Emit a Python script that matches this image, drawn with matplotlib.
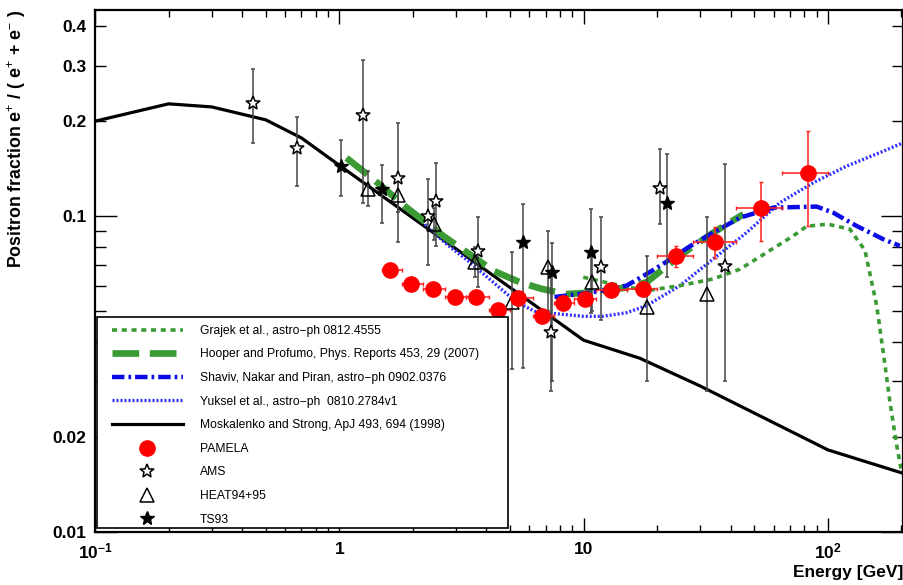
import matplotlib
matplotlib.use('Agg')
import matplotlib.pyplot as plt
import numpy as np
from matplotlib.lines import Line2D
from matplotlib.patches import Rectangle
from matplotlib.ticker import FixedLocator, FixedFormatter

plt.rcParams['font.family'] = ['Liberation Sans', 'DejaVu Sans']
plt.rcParams['mathtext.fontset'] = 'custom'
plt.rcParams['mathtext.rm'] = 'Liberation Sans'
plt.rcParams['mathtext.bf'] = 'Liberation Sans:bold'

# ---------------- model curves ----------------
mosk_x = [0.1, 0.2, 0.3, 0.5, 0.7, 1.0, 10.0, 17.0, 30.0, 50.0, 100.0, 200.0]
mosk_y = [0.200, 0.227, 0.222, 0.202, 0.177, 0.145, 0.0405, 0.0355, 0.029, 0.0238, 0.0182, 0.0154]

grajek_x = [9.97, 13.2, 18.1, 24.8, 33.9, 43.7, 56.2, 72.2, 81.9, 100.0, 123.0, 141.8, 158.4, 168.5, 179.5, 191.2, 199.0]
grajek_y = [0.0641, 0.0610, 0.0581, 0.0603, 0.0633, 0.0680, 0.0768, 0.0867, 0.0930, 0.0944, 0.0910, 0.0780, 0.0521, 0.0371, 0.0258, 0.01885, 0.0159]

hooper_x = [1.07, 1.378, 1.887, 2.66, 4.27, 5.49, 6.72, 8.5, 11.0, 15.0, 18.1, 22.0, 27.0, 34.0, 45.1]
hooper_y = [0.153, 0.131, 0.1065, 0.0867, 0.0672, 0.0618, 0.0589, 0.0567, 0.0574, 0.0595, 0.0618, 0.0697, 0.0787, 0.0888, 0.1015]

shaviv_x = [7.6, 9.6, 12.0, 15.0, 18.1, 22.0, 27.0, 34.0, 43.7, 59.8, 90.0, 105.0, 131.0, 168.5, 197.0]
shaviv_y = [0.0555, 0.0567, 0.0581, 0.0603, 0.0656, 0.0720, 0.0800, 0.0888, 0.0990, 0.1065, 0.1073, 0.1027, 0.0932, 0.0846, 0.0806]

yuksel_x = [1.95, 2.75, 3.43, 5.32, 6.42, 8.0, 10.0, 12.0, 15.0, 18.1, 24.8, 33.9, 46.5, 63.7, 87.1, 119.0, 163.0, 200.0]
yuksel_y = [0.104, 0.0816, 0.0714, 0.0534, 0.0497, 0.0490, 0.0482, 0.0482, 0.0495, 0.0521, 0.0603, 0.0732, 0.0888, 0.1105, 0.1277, 0.144, 0.159, 0.170]

# ---------------- data ----------------
pam_x = [1.62, 1.97, 2.41, 2.98, 3.63, 4.48, 5.40, 6.78, 8.26, 10.1, 13.0, 17.5, 23.9, 34.5, 53.2, 82.7]
pam_y = [0.0676, 0.0610, 0.0589, 0.0554, 0.0554, 0.0505, 0.0550, 0.0483, 0.0530, 0.0547, 0.0586, 0.0589, 0.0746, 0.0830, 0.1065, 0.1373]
pam_xlo = [1.5, 1.8, 2.2, 2.7, 3.3, 4.1, 5.0, 6.2, 7.6, 9.1, 11.2, 15.0, 20.0, 28.0, 42.0, 65.0]
pam_xhi = [1.8, 2.2, 2.7, 3.3, 4.1, 5.0, 6.2, 7.6, 9.1, 11.2, 15.0, 20.0, 28.0, 42.0, 65.0, 100.0]
pam_ylo = [0.0658, 0.0594, 0.0573, 0.0538, 0.0536, 0.0487, 0.0530, 0.0463, 0.0508, 0.0522, 0.0558, 0.0557, 0.0689, 0.0736, 0.0836, 0.0932]
pam_yhi = [0.0694, 0.0626, 0.0605, 0.0570, 0.0572, 0.0523, 0.0570, 0.0503, 0.0552, 0.0572, 0.0614, 0.0621, 0.0806, 0.0925, 0.1283, 0.186]

ams_x = [0.445, 0.669, 1.247, 1.744, 2.314, 2.488, 3.71, 7.36, 11.75, 20.5, 37.9]
ams_y = [0.229, 0.1647, 0.2098, 0.1324, 0.100, 0.1118, 0.0777, 0.043, 0.0692, 0.123, 0.0697]
ams_lo = [0.171, 0.125, 0.1105, 0.0826, 0.070, 0.0806, 0.0596, 0.028, 0.047, 0.0944, 0.030]
ams_hi = [0.292, 0.2064, 0.313, 0.198, 0.131, 0.147, 0.0998, 0.066, 0.0998, 0.163, 0.146]

heat_x = [1.31, 1.74, 2.44, 3.59, 5.08, 7.13, 10.87, 18.2, 31.9]
heat_y = [0.122, 0.117, 0.0944, 0.0714, 0.0534, 0.0689, 0.0618, 0.0515, 0.0567]
heat_lo = [0.108, 0.103, 0.084, 0.064, 0.0329, 0.050, 0.050, 0.030, 0.028]
heat_hi = [0.139, 0.133, 0.106, 0.080, 0.077, 0.090, 0.075, 0.075, 0.0998]

ts_x = [1.02, 1.50, 5.66, 7.40, 10.7, 21.9]
ts_y = [0.144, 0.122, 0.0826, 0.0665, 0.0772, 0.1105]
ts_lo = [0.116, 0.0955, 0.033, 0.030, 0.0495, 0.064]
ts_hi = [0.175, 0.145, 0.109, 0.082, 0.1057, 0.157]

green = '#3a9a34'
blue = '#0a0ae6'
blue2 = '#3030ff'

fig = plt.figure(figsize=(9.04, 5.85), dpi=100)
ax = fig.add_axes([0.1051, 0.0906, 0.8938, 0.8923])
ax.set_xscale('log')
ax.set_yscale('log')

ls_grajek = (0, (1.4, 1.3))
ls_hooper = (0, (4.0, 1.6))
ls_shaviv = (0, (2.8, 0.9, 0.6, 0.9))
ls_yuksel = (0, (0.6, 0.6))

ax.plot(mosk_x, mosk_y, color='black', lw=2.3, zorder=2)
ax.plot(yuksel_x, yuksel_y, color=blue2, lw=2.4, ls=ls_yuksel, zorder=2)
ax.plot(grajek_x, grajek_y, color=green, lw=2.6, ls=ls_grajek, zorder=2)
ax.plot(hooper_x, hooper_y, color=green, lw=4.8, ls=ls_hooper, zorder=2)
ax.plot(shaviv_x, shaviv_y, color=blue, lw=3.2, ls=ls_shaviv, zorder=2)

def bars(x, y, lo, hi, color, lw=1.1):
    y = np.asarray(y); lo = np.asarray(lo); hi = np.asarray(hi)
    ax.errorbar(x, y, yerr=[y - lo, hi - y], fmt='none', ecolor=color,
                elinewidth=lw, capsize=1.5, capthick=lw, zorder=3)

bars(ams_x, ams_y, ams_lo, ams_hi, '#444444')
bars(heat_x, heat_y, heat_lo, heat_hi, '#444444')
bars(ts_x, ts_y, ts_lo, ts_hi, '#444444')

pam_x_a = np.asarray(pam_x)
ax.errorbar(pam_x, pam_y,
            xerr=[pam_x_a - np.asarray(pam_xlo), np.asarray(pam_xhi) - pam_x_a],
            yerr=[np.asarray(pam_y) - np.asarray(pam_ylo), np.asarray(pam_yhi) - np.asarray(pam_y)],
            fmt='none', ecolor='#ff2020', elinewidth=1.1, capsize=1.5, zorder=4)

ax.plot(ams_x, ams_y, ls='none', marker='*', ms=10, mfc='white', mec='black', mew=1.1, zorder=5)
ax.plot(heat_x, heat_y, ls='none', marker='^', ms=10, mfc='none', mec='black', mew=1.1, zorder=5)
ax.plot(ts_x, ts_y, ls='none', marker='*', ms=10, mfc='black', mec='black', zorder=5)
ax.plot(pam_x, pam_y, ls='none', marker='o', ms=11, mfc='#ff0000', mec='#ff0000', zorder=6)

ax.set_xlim(0.1, 203)
ax.set_ylim(0.01, 0.45)

# ticks (ROOT style, inward on all sides)
ax.xaxis.set_major_locator(FixedLocator([0.1, 1, 10, 100]))
ax.xaxis.set_major_formatter(FixedFormatter([r'$\mathbf{10^{-1}}$', '1', '10', r'$\mathbf{10^{2}}$']))
xminor = [m * d for d in (0.1, 1, 10) for m in range(2, 10)] + [200]
ax.xaxis.set_minor_locator(FixedLocator(xminor))
ax.xaxis.set_minor_formatter(FixedFormatter([''] * len(xminor)))

ax.yaxis.set_major_locator(FixedLocator([0.01, 0.1]))
ax.yaxis.set_major_formatter(FixedFormatter(['0.01', '0.1']))
yminor = [0.02, 0.03, 0.04, 0.05, 0.06, 0.07, 0.08, 0.09, 0.2, 0.3, 0.4]
ylabels = ['0.02', '', '', '', '', '', '', '', '0.2', '0.3', '0.4']
ax.yaxis.set_minor_locator(FixedLocator(yminor))
ax.yaxis.set_minor_formatter(FixedFormatter(ylabels))

ax.tick_params(axis='both', which='both', direction='in', top=True, right=True,
               labelsize=12.5, width=1.0)
ax.tick_params(axis='x', which='major', length=10, pad=7)
ax.tick_params(axis='x', which='minor', length=5, pad=7)
ax.tick_params(axis='y', which='major', length=16, pad=6)
ax.tick_params(axis='y', which='minor', length=8, pad=6)
for lab in ax.get_xticklabels(which='both') + ax.get_yticklabels(which='both'):
    lab.set_fontweight('bold')
for sp in ax.spines.values():
    sp.set_linewidth(1.6)

ax.set_xlabel('Energy [GeV]', loc='right', fontsize=12.5, fontweight='bold')
ax.xaxis.set_label_coords(1.0, -0.064)
ax.set_ylabel(r'Positron fraction e$^{+}$ / ( e$^{+}$ + e$^{-}$ )', loc='top',
              fontsize=12.8, fontweight='bold')
ax.yaxis.set_label_coords(-0.083, 1.0)

# legend box (white, black border) and entries
ax.add_patch(Rectangle((0.002, 0.0075), 0.5095, 0.4035, transform=ax.transAxes,
                       facecolor='white', edgecolor='black', lw=1.2, zorder=7))

handles = [
    Line2D([], [], color=green, lw=2.6, ls=ls_grajek),
    Line2D([], [], color=green, lw=4.8, ls=ls_hooper),
    Line2D([], [], color=blue, lw=3.2, ls=ls_shaviv),
    Line2D([], [], color=blue2, lw=2.4, ls=ls_yuksel),
    Line2D([], [], color='black', lw=2.3),
    Line2D([], [], ls='none', marker='o', ms=11, mfc='#ff0000', mec='#ff0000'),
    Line2D([], [], ls='none', marker='*', ms=10, mfc='white', mec='black', mew=1.1),
    Line2D([], [], ls='none', marker='^', ms=10, mfc='none', mec='black', mew=1.1),
    Line2D([], [], ls='none', marker='*', ms=10, mfc='black', mec='black'),
]
labels = [
    'Grajek et al., astro\u2212ph 0812.4555',
    'Hooper and Profumo, Phys. Reports 453, 29 (2007)',
    'Shaviv, Nakar and Piran, astro\u2212ph 0902.0376',
    'Yuksel et al., astro\u2212ph  0810.2784v1',
    'Moskalenko and Strong, ApJ 493, 694 (1998)',
    'PAMELA', 'AMS', 'HEAT94+95', 'TS93',
]
leg = ax.legend(handles, labels, loc='upper left', bbox_to_anchor=(0.0207, 0.397),
                fontsize=8.7, handlelength=5.9, handletextpad=1.38,
                labelspacing=0.96, borderpad=0.0, borderaxespad=0.0, numpoints=1,
                frameon=False)
leg.set_zorder(8)

fig.savefig('out.png', dpi=100)
